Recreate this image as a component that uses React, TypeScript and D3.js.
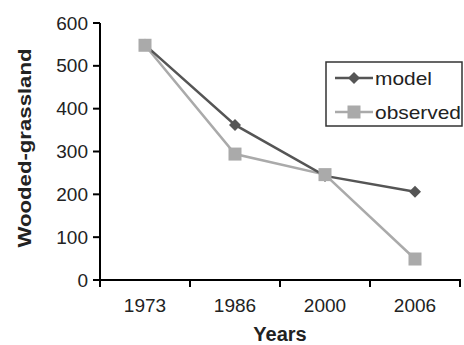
import React from "react";
import * as d3 from "d3";

const years = ["1973", "1986", "2000", "2006"];
const modelValues = [549, 362, 243, 206];
const observedValues = [548, 294, 246, 49];
const yTicks = [0, 100, 200, 300, 400, 500, 600];

const App: React.FC = () => {
  const width = 464;
  const height = 345;
  const left = 100;
  const right = 460;
  const top = 23;
  const bottom = 280;

  const x = d3.scaleBand().domain(years).range([left, right]).padding(0);
  const y = d3.scaleLinear().domain([0, 600]).range([bottom, top]);
  const cx = (d: string) => (x(d) as number) + x.bandwidth() / 2;

  const line = d3
    .line<number>()
    .x((_, i) => cx(years[i]))
    .y((d) => y(d));

  const modelColor = "#555555";
  const obsColor = "#aaaaaa";
  const font = "Liberation Sans, Arial, sans-serif";

  const diamond = (px: number, py: number, r: number) =>
    `M${px},${py - r}L${px + r},${py}L${px},${py + r}L${px - r},${py}Z`;

  const boundaries = [...years.map((d) => x(d) as number), right];

  return (
    <svg
      width={width}
      height={height}
      style={{ position: "absolute", left: 0, top: 0, background: "#fff" }}
      fontFamily={font}
    >
      {/* observed line under model */}
      <path d={line(observedValues) || ""} fill="none" stroke={obsColor} strokeWidth={2.5} />
      <path d={line(modelValues) || ""} fill="none" stroke={modelColor} strokeWidth={2.5} />
      {modelValues.map((v, i) => (
        <path key={"m" + i} d={diamond(cx(years[i]), y(v), 6)} fill={modelColor} />
      ))}
      {observedValues.map((v, i) => (
        <rect
          key={"o" + i}
          x={cx(years[i]) - 6.5}
          y={y(v) - 6.5}
          width={13}
          height={13}
          fill={obsColor}
        />
      ))}

      {/* y axis */}
      <line x1={left} x2={left} y1={top} y2={bottom} stroke="#000" strokeWidth={2} />
      {yTicks.map((t) => (
        <g key={t}>
          <line x1={left - 7} x2={left} y1={y(t)} y2={y(t)} stroke="#000" strokeWidth={2} />
          <text x={left - 12} y={y(t)} dy="0.35em" textAnchor="end" fontSize={19} fill="#222">
            {t}
          </text>
        </g>
      ))}

      {/* x axis */}
      <line x1={left - 1} x2={right + 1} y1={bottom} y2={bottom} stroke="#000" strokeWidth={2} />
      {boundaries.map((b, i) => (
        <line key={i} x1={b} x2={b} y1={bottom} y2={bottom + 7} stroke="#000" strokeWidth={2} />
      ))}
      {years.map((d) => (
        <text key={d} x={cx(d)} y={312} textAnchor="middle" fontSize={19} fill="#222">
          {d}
        </text>
      ))}

      <text
        x={280}
        y={341}
        textAnchor="middle"
        fontSize={20}
        fontWeight="bold"
        fill="#222"
      >
        Years
      </text>
      <text
        transform="translate(31,148) rotate(-90)"
        textAnchor="middle"
        fontSize={19}
        fontWeight="bold"
        fill="#222"
        textLength={199}
        lengthAdjust="spacingAndGlyphs"
      >
        Wooded-grassland
      </text>

      {/* legend */}
      <rect x={326} y={62} width={136} height={64} fill="#fff" stroke="#333" strokeWidth={1.5} />
      <line x1={335} x2={373} y1={78} y2={78} stroke={modelColor} strokeWidth={2.5} />
      <path d={diamond(354, 78, 6)} fill={modelColor} />
      <text x={375} y={78} dy="0.35em" fontSize={19} fill="#222" textLength={57} lengthAdjust="spacingAndGlyphs">
        model
      </text>
      <line x1={335} x2={373} y1={112} y2={112} stroke={obsColor} strokeWidth={2.5} />
      <rect x={347.5} y={105.5} width={13} height={13} fill={obsColor} />
      <text x={375} y={112} dy="0.35em" fontSize={19} fill="#222" textLength={86} lengthAdjust="spacingAndGlyphs">
        observed
      </text>
    </svg>
  );
};

export default App;
